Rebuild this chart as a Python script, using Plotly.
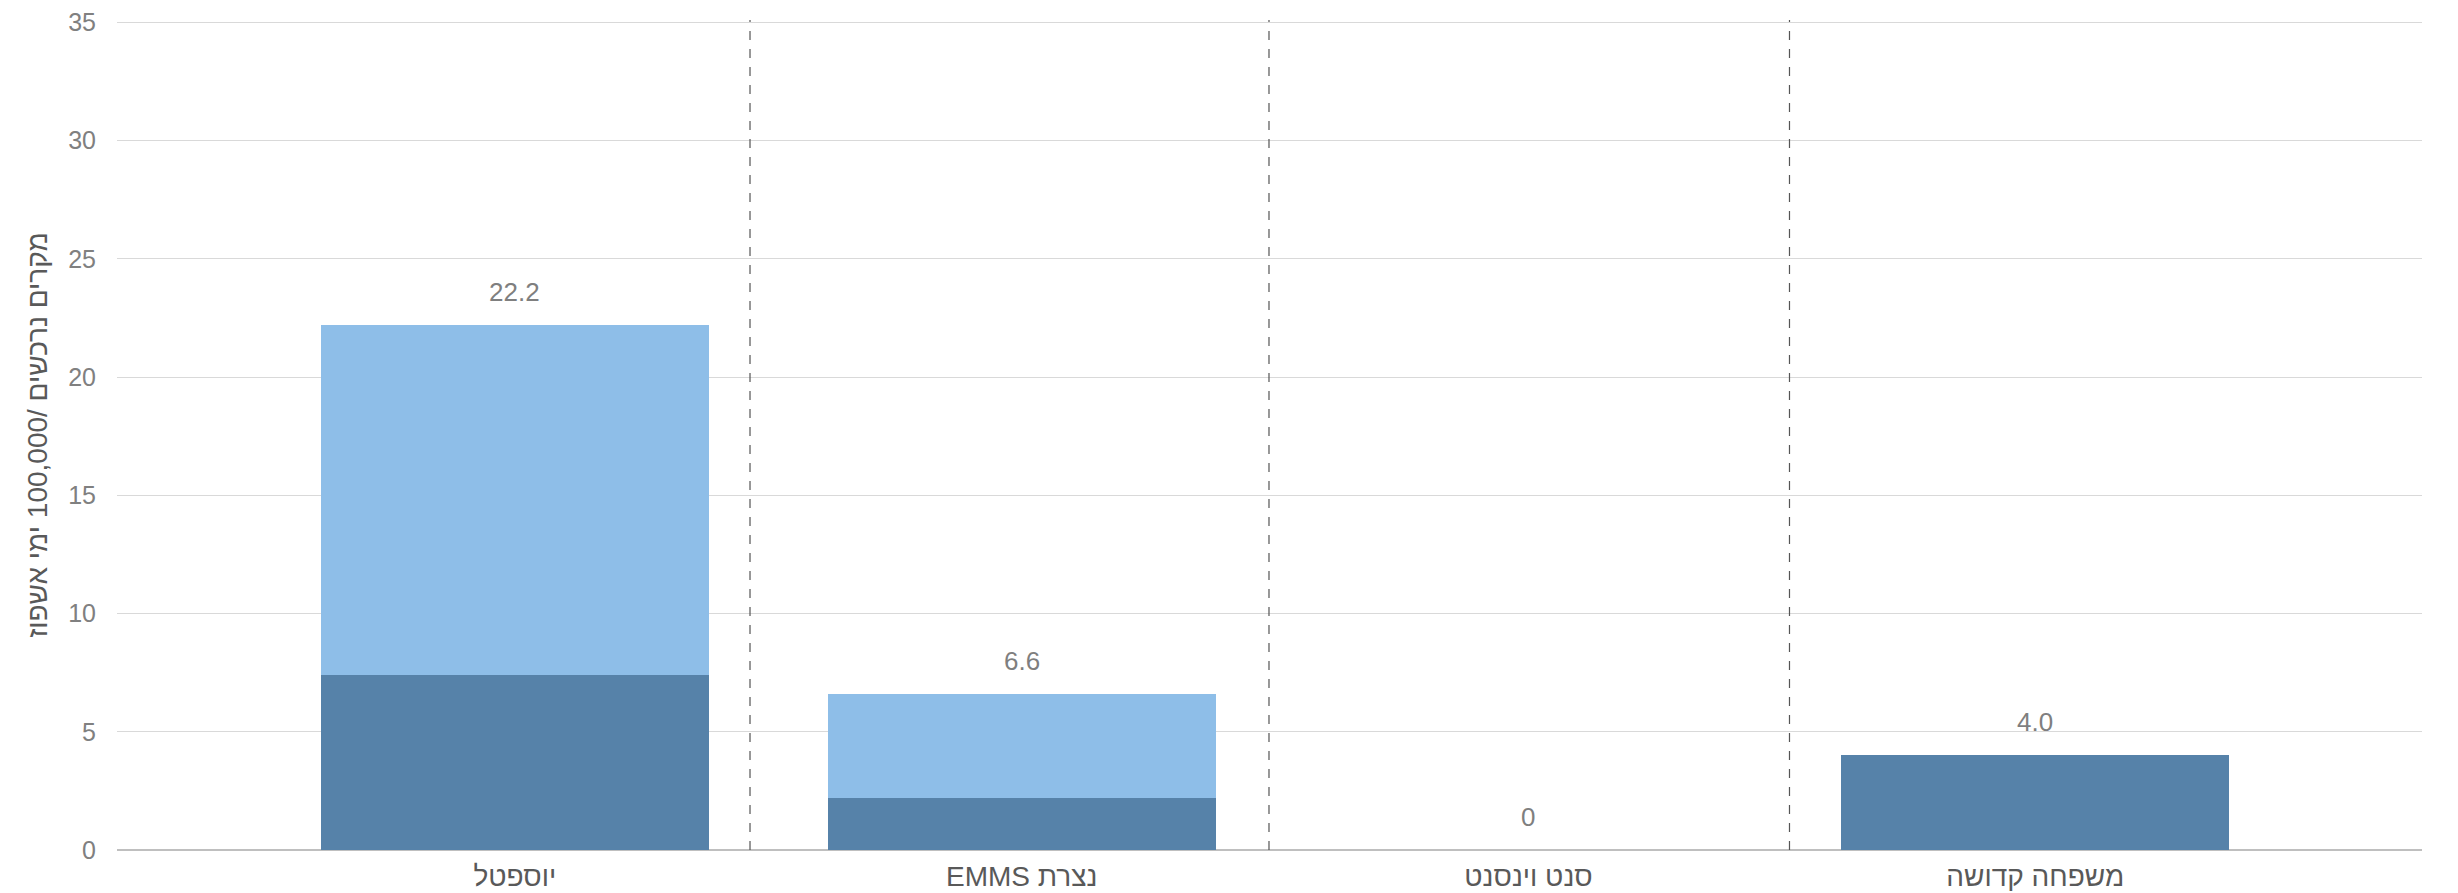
import plotly.graph_objects as go

categories = ["יוספטל", "EMMS נצרת", "סנט וינסנט", "משפחה קדושה"]
dark_values = [7.4, 2.2, 0, 4.0]
light_values = [14.8, 4.4, 0, 0]
totals = [22.2, 6.6, 0, 4.0]
total_labels = ["22.2", "6.6", "0", "4.0"]
y_ticks = [0, 5, 10, 15, 20, 25, 30, 35]
y_title = "מקרים נרכשים /100,000 ימי אשפוז"

xpos = list(range(len(categories)))
FONT = "Arial, Liberation Sans, sans-serif"

fig = go.Figure()
fig.add_trace(go.Bar(x=xpos, y=dark_values, width=0.766, marker=dict(color="#5682A9", line=dict(width=0)),
                     hoverinfo="skip", showlegend=False))
fig.add_trace(go.Bar(x=xpos, y=light_values, width=0.766, marker=dict(color="#8EBEE8", line=dict(width=0)),
                     hoverinfo="skip", showlegend=False))

for xi, yi, lab in zip(xpos, totals, total_labels):
    fig.add_annotation(x=xi, y=yi, text=lab, showarrow=False, yanchor="middle", yshift=33,
                       font=dict(family=FONT, size=26, color="#7F7F7F"))

for xd in [0.464, 1.488, 2.515]:
    fig.add_shape(type="line", xref="x", yref="paper", x0=xd, x1=xd, y0=0, y1=1,
                  line=dict(color="#555555", width=1.2, dash="dash"))

fig.update_layout(
    width=2442, height=885,
    margin=dict(l=109, r=28, t=12, b=43),
    barmode="stack",
    plot_bgcolor="white", paper_bgcolor="white",
    font=dict(family=FONT, size=25, color="#808080"),
    xaxis=dict(range=[-0.785, 3.763], tickvals=xpos, ticktext=categories, showgrid=False,
               zeroline=False, showline=False, ticks="", automargin=False,
               ticklabelstandoff=7, ticklabeloverflow="allow",
               tickfont=dict(family=FONT, size=28, color="#595959")),
    yaxis=dict(range=[0, 35.1], tickvals=y_ticks, showgrid=True, gridcolor="#D9D9D9", gridwidth=1.3,
               zeroline=True, zerolinecolor="#BFBFBF", zerolinewidth=1.5, ticks="",
               ticklabelstandoff=20, automargin=False, ticklabeloverflow="allow",
               tickfont=dict(family=FONT, size=25, color="#808080"),
               title=dict(text=y_title, font=dict(family=FONT, size=28, color="#595959"), standoff=12)),
)

fig.write_html("out.html")
